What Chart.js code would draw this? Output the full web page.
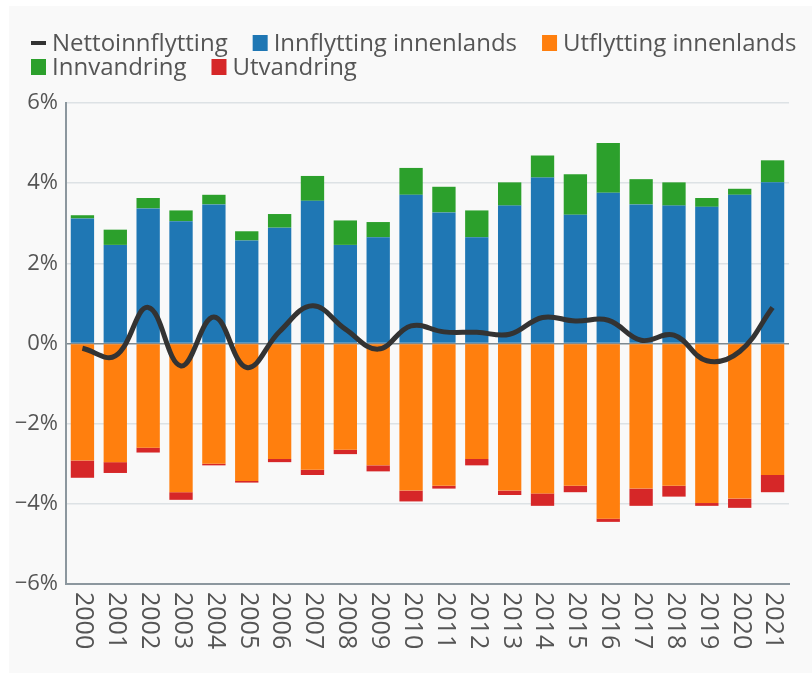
<!DOCTYPE html>
<html>
<head>
<meta charset="utf-8">
<script src="https://cdn.jsdelivr.net/npm/chart.js@4.4.1/dist/chart.umd.min.js"></script>
<style>
  html, body { margin: 0; padding: 0; background: #fff; }
  #can { width: 812px; height: 673px; position: relative; }
</style>
</head>
<body>
<div id="can"><canvas id="myChart"></canvas></div>
<script>
// data (percent)
const years = ['2000','2001','2002','2003','2004','2005','2006','2007','2008','2009','2010',
               '2011','2012','2013','2014','2015','2016','2017','2018','2019','2020','2021'];
const netto = [-0.12,-0.31,0.90,-0.56,0.66,-0.60,0.30,0.94,0.36,-0.14,0.44,
               0.29,0.28,0.23,0.65,0.56,0.58,0.08,0.21,-0.43,-0.20,0.90];
const innflytting = [3.12,2.46,3.37,3.05,3.47,2.57,2.89,3.56,2.46,2.65,3.71,
                     3.27,2.65,3.44,4.14,3.21,3.76,3.47,3.44,3.41,3.71,4.02];
const utflytting = [-2.92,-2.96,-2.60,-3.71,-3.00,-3.43,-2.88,-3.15,-2.65,-3.04,-3.67,
                    -3.55,-2.88,-3.67,-3.74,-3.55,-4.37,-3.62,-3.55,-3.98,-3.87,-3.28];
const innvandring = [0.08,0.38,0.26,0.27,0.24,0.23,0.34,0.62,0.61,0.38,0.67,
                     0.64,0.67,0.58,0.55,1.01,1.24,0.63,0.58,0.22,0.15,0.55];
const utvandring = [-0.43,-0.27,-0.12,-0.19,-0.04,-0.04,-0.08,-0.13,-0.11,-0.15,-0.27,
                    -0.07,-0.16,-0.11,-0.31,-0.16,-0.08,-0.43,-0.27,-0.07,-0.23,-0.43];
const yTicks = [-6,-4,-2,0,2,4,6];

const textColor = '#555';
const fontFam = "'Open Sans', sans-serif";

// grey panel behind everything
const panel = {
    id: 'panel',
    beforeDraw(chart) {
        const ctx = chart.ctx;
        ctx.save();
        ctx.fillStyle = '#f9f9f9';
        ctx.fillRect(9, 6, chart.width - 9, chart.height - 6);
        ctx.restore();
    }
};

// legend drawn by hand so the spacing matches (two rows, tight)
const legendBox = {
    id: 'legendBox',
    afterDraw(chart) {
        const ctx = chart.ctx;
        ctx.save();
        ctx.font = '24px ' + fontFam;
        ctx.textBaseline = 'middle';
        let x = 31, y = 43;
        chart.data.datasets.forEach(ds => {
            const w = 15 + 6 + ctx.measureText(ds.label).width;
            if (x + w > 808) { x = 31; y += 24; }
            if (ds.type === 'line') {
                ctx.fillStyle = ds.borderColor;
                ctx.fillRect(x, y - 2, 15, 4);
            } else {
                ctx.fillStyle = ds.backgroundColor;
                ctx.fillRect(x, y - 8, 15, 16);
            }
            ctx.fillStyle = textColor;
            ctx.fillText(ds.label, x + 21, y + 1);
            x += w + 25;
        });
        ctx.restore();
    }
};

// year labels turned 90 deg clockwise, reading top to bottom
const yearLabels = {
    id: 'yearLabels',
    afterDraw(chart) {
        const ctx = chart.ctx;
        const xs = chart.scales.x;
        ctx.save();
        ctx.font = '25px ' + fontFam;
        ctx.fillStyle = textColor;
        ctx.textAlign = 'left';
        ctx.textBaseline = 'middle';
        years.forEach((yr, i) => {
            ctx.save();
            ctx.translate(xs.getPixelForValue(i) + 1, chart.chartArea.bottom + 8);
            ctx.rotate(Math.PI / 2);
            ctx.fillText(yr, 0, 0);
            ctx.restore();
        });
        ctx.restore();
    }
};

var canvas = document.getElementById("myChart");
var myChart = new Chart(canvas, {
    data: {
        labels: years,
        datasets: [
            {
                type: 'line', label: 'Nettoinnflytting', data: netto, order: 0,
                borderColor: '#333333', backgroundColor: '#333333', borderWidth: 5,
                pointRadius: 0, tension: 0.4, cubicInterpolationMode: 'default'
            },
            { type: 'bar', label: 'Innflytting innenlands', data: innflytting, order: 1, backgroundColor: '#1f77b4' },
            { type: 'bar', label: 'Utflytting innenlands', data: utflytting, order: 1, backgroundColor: '#ff7f0e' },
            { type: 'bar', label: 'Innvandring', data: innvandring, order: 1, backgroundColor: '#2ca02c' },
            { type: 'bar', label: 'Utvandring', data: utvandring, order: 1, backgroundColor: '#d62728' }
        ]
    },
    options: {
        responsive: true,
        maintainAspectRatio: false,
        animation: false,
        datasets: { bar: { barPercentage: 0.71, categoryPercentage: 1.0 } },
        layout: { padding: { top: 103, right: 23, bottom: 0, left: 0 } },
        plugins: { legend: { display: false }, tooltip: { enabled: false } },
        scales: {
            x: {
                stacked: true,
                offset: true,
                grid: { display: false },
                border: { display: true, color: '#8c979e', width: 2 },
                ticks: { display: false },
                afterFit: s => { s.height = 89; }
            },
            y: {
                stacked: true,
                min: -6, max: 6,
                afterBuildTicks: s => { s.ticks = yTicks.map(v => ({ value: v })); },
                afterFit: s => { s.width = 66; },
                border: { display: true, color: '#8c979e', width: 2 },
                grid: {
                    drawTicks: false,
                    color: c => c.tick && c.tick.value === 0 ? '#7d8990' : '#dde2e5',
                    lineWidth: 1.5
                },
                ticks: {
                    padding: 8,
                    color: textColor,
                    font: { family: fontFam, size: 22 },
                    callback: v => (v < 0 ? '\u2212' : '') + Math.abs(v) + '%'
                }
            }
        }
    },
    plugins: [panel, legendBox, yearLabels]
});
</script>
</body>
</html>
